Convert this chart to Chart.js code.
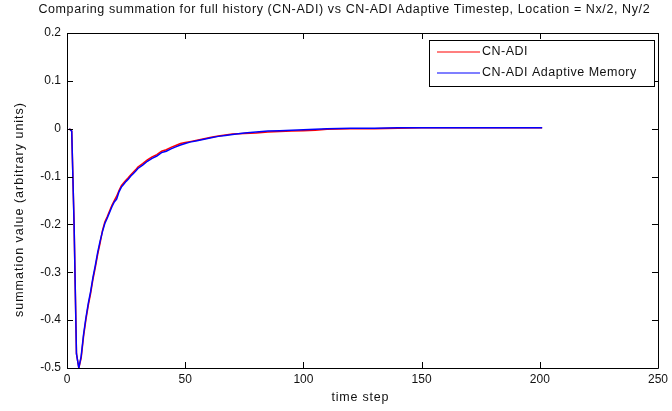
<!DOCTYPE html>
<html>
<head>
<meta charset="utf-8">
<script src="https://cdn.jsdelivr.net/npm/chart.js@4/dist/chart.umd.min.js"></script>
<style>
html,body{margin:0;padding:0;background:#fff;}
#wrap{width:672px;height:411px;position:relative;}
</style>
</head>
<body>
<div id="wrap"><canvas id="c" width="672" height="411"></canvas></div>
<script>
const titleText = 'Comparing summation for full history (CN-ADI) vs CN-ADI Adaptive Timestep, Location = Nx/2, Ny/2';
const xLabel = 'time step';
const yLabel = 'summation value (arbitrary units)';
const seriesNames = ['CN-ADI', 'CN-ADI Adaptive Memory'];
const xTicks = [0, 50, 100, 150, 200, 250];
const yTicks = [-0.5, -0.4, -0.3, -0.2, -0.1, 0, 0.1, 0.2];

const timeSteps = [1,2,3,4,5,6,7,8,9,10,11,12,13,14,15,16,17,18,19,20,21,22,23,24,25,26,27,28,29,30,
  32,34,36,38,40,42,44,46,48,50,52,55,58,61,64,67,70,75,80,85,90,95,100,105,110,
  120,130,140,150,160,170,180,190,201];

const cnAdi = [0,-0.005,-0.2,-0.47,-0.5,
  -0.479,-0.434,-0.399,-0.369,-0.344,
  -0.314,-0.289,-0.262,-0.239,-0.213,
  -0.195,-0.184,-0.172,-0.16,-0.15,
  -0.141,-0.129,-0.119,-0.113,-0.107,
  -0.102,-0.096,-0.091,-0.086,-0.08,
  -0.073,-0.065,-0.059,-0.054,-0.047,-0.044,-0.039,-0.035,-0.031,-0.029,
  -0.027,-0.024,-0.021,-0.018,-0.015,-0.013,-0.011,
  -0.010,-0.009,-0.007,-0.006,-0.005,-0.004,-0.003,-0.001,
  0,0,0.001,0.002,0.002,0.002,0.002,0.002,0.002];

const cnAdiAdaptive = [0,-0.005,-0.2,-0.47,-0.5,
  -0.475,-0.43,-0.395,-0.365,-0.34,
  -0.31,-0.285,-0.258,-0.235,-0.215,
  -0.198,-0.187,-0.175,-0.163,-0.153,
  -0.147,-0.132,-0.122,-0.116,-0.11,
  -0.105,-0.099,-0.094,-0.089,-0.083,
  -0.076,-0.068,-0.062,-0.057,-0.05,-0.047,-0.042,-0.038,-0.034,-0.031,
  -0.028,-0.025,-0.022,-0.019,-0.016,-0.014,-0.012,
  -0.009,-0.007,-0.005,-0.004,-0.003,-0.002,-0.001,0,
  0.001,0.001,0.002,0.002,0.002,0.002,0.002,0.002,0.002];

const FONT = '"Liberation Sans", Arial, Helvetica, sans-serif';
const TXT = '#111';

function pts(xs, ys){ return xs.map((x,i)=>({x:x, y:ys[i]})); }

function spacedText(ctx, text, x, y, spacing){
  ctx.letterSpacing = spacing + 'px';
  // compensate trailing spacing for centered text
  ctx.fillText(text, x + spacing/2, y);
  ctx.letterSpacing = '0px';
}

const framePlugin = {
  id: 'frame',
  afterDatasetsDraw(chart){
    const ctx = chart.ctx, a = chart.chartArea;
    const xs = chart.scales.x, ys = chart.scales.y;
    ctx.save();
    ctx.strokeStyle = '#000';
    ctx.lineWidth = 1;
    ctx.beginPath();
    ctx.rect(Math.round(a.left)+0.5, Math.round(a.top)+0.5, Math.round(a.right-a.left), Math.round(a.bottom-a.top));
    ctx.stroke();
    const tl = 6;
    ctx.beginPath();
    xTicks.forEach(v=>{
      const px = Math.round(xs.getPixelForValue(v))+0.5;
      ctx.moveTo(px, a.bottom); ctx.lineTo(px, a.bottom - tl);
      ctx.moveTo(px, a.top); ctx.lineTo(px, a.top + tl);
    });
    yTicks.forEach(v=>{
      const py = Math.round(ys.getPixelForValue(v))+0.5;
      ctx.moveTo(a.left, py); ctx.lineTo(a.left + tl, py);
      ctx.moveTo(a.right, py); ctx.lineTo(a.right - tl, py);
    });
    ctx.stroke();

    // legend box
    const bx = 429.5, by = 40.5, bw = 225, bh = 46;
    ctx.fillStyle = '#fff';
    ctx.fillRect(bx, by, bw, bh);
    ctx.strokeStyle = '#000';
    ctx.strokeRect(bx, by, bw, bh);
    const colors = ['#ff0000', '#0000ff'];
    const rows = [52, 73];
    ctx.font = '12.5px ' + FONT;
    ctx.textBaseline = 'middle';
    ctx.textAlign = 'left';
    seriesNames.forEach((name,i)=>{
      ctx.strokeStyle = colors[i];
      ctx.lineWidth = 1.2;
      ctx.beginPath();
      ctx.moveTo(437, rows[i]); ctx.lineTo(480, rows[i]);
      ctx.stroke();
      ctx.fillStyle = TXT;
      ctx.letterSpacing = '0.5px';
      ctx.fillText(name, 482, rows[i]);
      ctx.letterSpacing = '0px';
    });

    // title and axis titles
    ctx.fillStyle = TXT;
    ctx.textAlign = 'center';
    ctx.textBaseline = 'middle';
    ctx.font = '12.5px ' + FONT;
    spacedText(ctx, titleText, 344, 10, 0.6);
    spacedText(ctx, xLabel, 360, 398, 0.8);
    ctx.save();
    ctx.translate(20, 210);
    ctx.rotate(-Math.PI/2);
    spacedText(ctx, yLabel, 0, 0, 1.0);
    ctx.restore();
    ctx.restore();
  }
};

new Chart(document.getElementById('c'), {
  type: 'line',
  data: {
    datasets: [
      { label: seriesNames[0], data: pts(timeSteps, cnAdi), borderColor: '#ff0000', backgroundColor: '#ff0000',
        borderWidth: 1.5, pointRadius: 0, tension: 0, fill: false, order: 1 },
      { label: seriesNames[1], data: pts(timeSteps, cnAdiAdaptive), borderColor: '#0000ff', backgroundColor: '#0000ff',
        borderWidth: 1.5, pointRadius: 0, tension: 0, fill: false, order: 0 }
    ]
  },
  options: {
    responsive: false,
    animation: false,
    devicePixelRatio: 1,
    layout: { padding: { left: 0, right: 14, top: 33, bottom: 0 } },
    plugins: {
      legend: { display: false },
      tooltip: { enabled: false },
      title: { display: false }
    },
    scales: {
      x: {
        type: 'linear', min: 0, max: 250,
        afterBuildTicks: s => { s.ticks = xTicks.map(v=>({value:v})); },
        afterFit: s => { s.height = 43; },
        grid: { display: false, drawTicks: false },
        border: { display: false },
        ticks: { color: TXT, font: { family: FONT, size: 12 }, padding: 4, maxRotation: 0 },
        title: { display: false }
      },
      y: {
        type: 'linear', min: -0.5, max: 0.2,
        afterBuildTicks: s => { s.ticks = yTicks.map(v=>({value:v})); },
        afterFit: s => { s.width = 67; },
        grid: { display: false, drawTicks: false },
        border: { display: false },
        ticks: { color: TXT, font: { family: FONT, size: 12 }, padding: 6,
                 callback: v => String(Math.round(v*10)/10) },
        title: { display: false }
      }
    }
  },
  plugins: [framePlugin]
});
</script>
</body>
</html>
